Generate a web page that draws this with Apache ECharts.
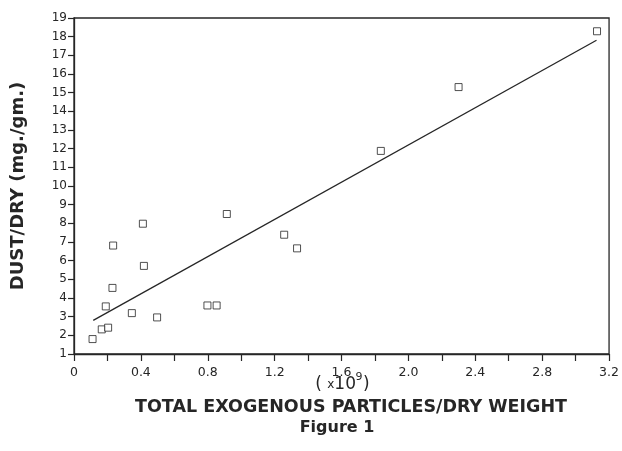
<!DOCTYPE html>
<html><head><meta charset="utf-8">
<script src="https://cdn.jsdelivr.net/npm/echarts@6/dist/echarts.min.js"></script>
<style>html,body{margin:0;padding:0;background:#fff}#c{width:622px;height:451px}</style>
</head><body><div id="c"></div>
<script>
// Data
const particles = [0.111, 0.166, 0.204, 0.19, 0.23, 0.234, 0.412, 0.418, 0.346, 0.497, 0.798, 0.853, 0.914, 1.257, 1.334, 1.835, 2.30, 3.128];
const dust      = [1.80, 2.32, 2.41, 3.55, 4.54, 6.81, 7.98, 5.72, 3.19, 2.96, 3.60, 3.60, 8.50, 7.39, 6.66, 11.88, 15.30, 18.29];
const fitX = [0.115, 3.125];
const fitY = [2.80, 17.81];
const yTitle = 'DUST/DRY (mg./gm.)';
const xUnit = ['( ', 'x', '10', '9', ')'];
const xTitle = 'TOTAL EXOGENOUS PARTICLES/DRY WEIGHT';
const figTitle = 'Figure 1';

const FONT = '"DejaVu Sans", "Liberation Sans", Arial, sans-serif';
const INK = '#262626';
const PLOT_CX = 344;
const UX = 356; // right edge of "( x10"
const chart = echarts.init(document.getElementById('c'), null, {renderer: 'canvas'});
chart.setOption({
  animation: false,
  backgroundColor: '#fff',
  grid: {left: 74, top: 18, right: 10, bottom: 97, show: true, borderColor: INK, borderWidth: 1.3, backgroundColor: 'transparent'},
  xAxis: {
    type: 'value', min: 0, max: 3.2, interval: 0.2,
    axisLine: {lineStyle: {color: INK, width: 1.3}},
    axisTick: {length: 7, inside: false, lineStyle: {color: INK, width: 1.2}},
    splitLine: {show: false},
    axisLabel: {
      color: INK, fontFamily: FONT, fontSize: 12.5, margin: 12,
      formatter: v => {
        const k = Math.round(v * 10);
        if (k % 4 !== 0) return '';
        return k === 0 ? '0' : (k / 10).toFixed(1);
      }
    }
  },
  yAxis: {
    type: 'value', min: 1, max: 19, interval: 1,
    axisLine: {lineStyle: {color: INK, width: 1.3}},
    axisTick: {length: 6, lineStyle: {color: INK, width: 1.2}},
    splitLine: {show: false},
    axisLabel: {color: INK, fontFamily: FONT, fontSize: 12, margin: 7},
    name: yTitle, nameLocation: 'middle', nameRotate: 90, nameGap: 47,
    nameTextStyle: {color: INK, fontFamily: FONT, fontSize: 18, fontWeight: 'bold'}
  },
  graphic: [
    {type: 'text', x: UX, y: 375, style: {
      text: '{p|' + xUnit[0] + '}{x|' + xUnit[1] + '}{p|' + xUnit[2] + '}',
      align: 'right', verticalAlign: 'top', fill: INK,
      rich: {
        p: {fontFamily: FONT, fontSize: 17, fill: INK, lineHeight: 20},
        x: {fontFamily: FONT, fontSize: 12, fill: INK, lineHeight: 20}
      }
    }},
    {type: 'text', x: UX - 0.5, y: 372, style: {text: xUnit[3], fill: INK, align: 'left', verticalAlign: 'top', font: '11px "DejaVu Sans", "Liberation Sans", Arial, sans-serif'}},
    {type: 'text', x: UX + 7, y: 375, style: {text: xUnit[4], fill: INK, align: 'left', verticalAlign: 'top', font: '17px "DejaVu Sans", "Liberation Sans", Arial, sans-serif', lineHeight: 20}},
    {type: 'text', x: PLOT_CX + 7, y: 398, style: {text: xTitle, fill: INK, align: 'center', verticalAlign: 'top', font: 'bold 17.5px "DejaVu Sans", "Liberation Sans", Arial, sans-serif'}},
    {type: 'text', x: PLOT_CX - 7, y: 420, style: {text: figTitle, fill: INK, align: 'center', verticalAlign: 'top', font: 'bold 16px "DejaVu Sans", "Liberation Sans", Arial, sans-serif'}}
  ],
  series: [
    {type: 'line', data: fitX.map((x, i) => [x, fitY[i]]), symbol: 'none',
     lineStyle: {color: INK, width: 1.3}, z: 2},
    {type: 'scatter', data: particles.map((x, i) => [x, dust[i]]), symbol: 'rect', symbolSize: 7,
     itemStyle: {color: '#fff', borderColor: INK, borderWidth: 1}, z: 3}
  ]
});
</script></body></html>
